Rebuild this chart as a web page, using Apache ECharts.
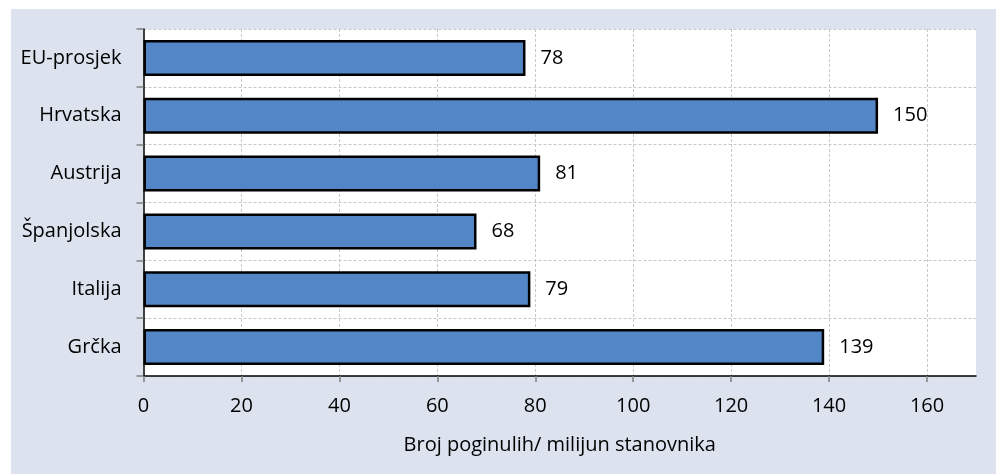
<!DOCTYPE html>
<html>
<head>
<meta charset="utf-8">
<script src="https://cdn.jsdelivr.net/npm/echarts@6/dist/echarts.min.js"></script>
<style>
  html, body { margin: 0; padding: 0; background: #ffffff; }
  #chart { width: 996px; height: 474px; }
</style>
</head>
<body>
<div id="chart"></div>
<script>
// Road deaths per million inhabitants, top to bottom
const countries = ['EU-prosjek', 'Hrvatska', 'Austrija', 'Španjolska', 'Italija', 'Grčka'];
const deathsPerMillion = [78, 150, 81, 68, 79, 139];
const axisTitle = 'Broj poginulih/ milijun stanovnika';

const FONT = '"Open Sans", "Noto Sans", sans-serif';
const chart = echarts.init(document.getElementById('chart'), null, { renderer: 'canvas' });

chart.setOption({
  animation: false,
  backgroundColor: '#ffffff',
  graphic: [{
    type: 'rect',
    z: -10,
    silent: true,
    shape: { x: 11, y: 9, width: 985, height: 465 },
    style: { fill: '#dce3ef' }
  }],
  grid: {
    left: 143.5, right: 20, top: 29, bottom: 98,
    show: true, backgroundColor: '#ffffff', borderWidth: 0
  },
  xAxis: {
    type: 'value',
    min: 0, max: 170, interval: 20,
    name: axisTitle,
    nameLocation: 'middle',
    nameGap: 59,
    nameTextStyle: { fontFamily: FONT, fontSize: 20, color: '#000' },
    axisLine: { show: true, lineStyle: { color: '#000', width: 1.5 } },
    axisTick: { show: true, length: 6, lineStyle: { color: '#808080', width: 1.5 } },
    axisLabel: {
      margin: 20, fontFamily: FONT, fontSize: 20, color: '#000',
      showMaxLabel: false
    },
    splitLine: {
      show: true, showMinLine: false, showMaxLine: false,
      lineStyle: { color: '#c8c8c8', type: [3, 2], width: 1 }
    }
  },
  yAxis: {
    type: 'category',
    inverse: true,
    data: countries,
    axisLine: { show: true, lineStyle: { color: '#000', width: 1.5 } },
    axisTick: { show: true, length: 7, lineStyle: { color: '#808080', width: 1.5 } },
    axisLabel: { margin: 22, fontFamily: FONT, fontSize: 20, color: '#000' },
    splitLine: {
      show: true,
      lineStyle: { color: '#c8c8c8', type: [3, 2], width: 1 }
    }
  },
  series: [{
    type: 'bar',
    data: deathsPerMillion,
    barWidth: 36,
    itemStyle: { color: '#5286c6', borderColor: '#000', borderWidth: 2.5 },
    label: {
      show: true, position: 'right', distance: 15,
      fontFamily: FONT, fontSize: 20, color: '#000'
    }
  }]
});
</script>
</body>
</html>
